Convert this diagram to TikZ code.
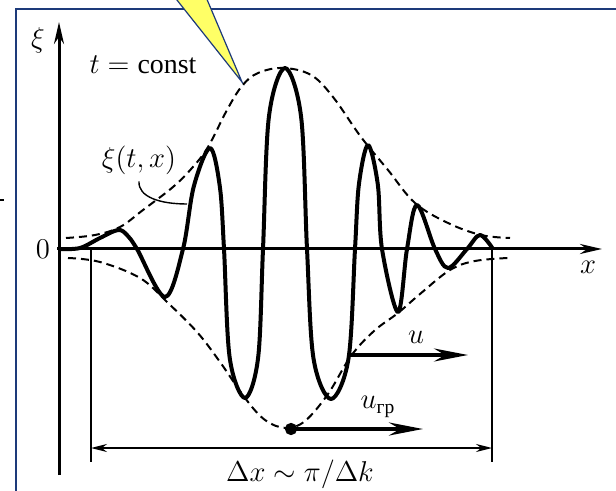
\documentclass[tikz,border=0pt]{standalone}
\usepackage{amsmath}
\usepackage{fontspec}
\setmainfont{Liberation Serif}
\usetikzlibrary{arrows.meta}
\definecolor{framenavy}{HTML}{1D3A7A}
\definecolor{callout}{HTML}{FFFF66}

\begin{document}
\begin{tikzpicture}[x=0.5bp, y=-0.5bp,
    font=\fontsize{14}{17}\selectfont,
    axis/.style={line width=1.5bp, -{Stealth[length=11bp, width=5bp]}},
    wave/.style={line width=2bp, line join=round},
    env/.style={line width=1bp, dash pattern=on 4bp off 2.5bp},
    vel/.style={line width=1.8bp, -{Stealth[length=17bp, width=6.5bp]}},
    dim/.style={line width=0.8bp, {Stealth[length=8bp, width=4bp]}-{Stealth[length=8bp, width=4bp]}},
    guide/.style={line width=1bp}]
\clip (0,0) rectangle (616,491);
\fill[white] (0,0) rectangle (616,491);

% --- frame & callout ---
\draw[framenavy, line width=1.2bp] (16,640) -- (16,9) -- (640,9);
\draw[framenavy, line width=0.6bp, fill=callout] (169,-10) -- (242,82) -- (203,-10) -- cycle;
\draw[line width=0.8bp] (0,200) -- (4,200);

% --- axes ---
\coordinate (yB) at (59,475);
\coordinate (yT) at (59,22);
\coordinate (xL) at (57,249);
\coordinate (xR) at (602,249);
\draw[axis] (yB) -- (yT);
\draw[axis] (xL) -- (xR);
\node (xilab) at (38,40) {$\xi$};
\node (zero) at (43,249) {$0$};
\node (xlab) at (588,267) {$x$};
\node (tconst) at (143,65) {$t=\text{const}$};

% --- envelope ---
\draw[env] plot[smooth, tension=0.6] coordinates {(66,238) (95,235) (120,227) (143,210)
  (173,187) (192,168) (208,147) (227,110) (242,86) (258,73) (283,68) (311,75) (333,97)
  (361,137) (388,170) (415,203) (448,223) (481,235) (510,238)};
\draw[env] plot[smooth, tension=0.6] coordinates {(68,258) (100,262) (140,278) (167,302)
  (197,332) (220,362) (245,398) (265,420) (286,428) (305,421) (328,394) (351,356)
  (374,331) (398,313) (420,294) (450,270) (475,261) (508,258)};

% --- wave packet ---
\draw[wave] plot[smooth, tension=0.55] coordinates {(60,249) (80,248) (100,238) (118,230)
  (127,235) (137,249) (165,297) (183,249) (193.8,186.4) (210,148) (219.8,186.4)
  (224,249) (229.7,357.8) (245,398) (258.1,357.8) (263,249) (268.9,116.9) (285,68)
  (301.1,116.9) (307,249) (313.5,358.5) (331,399) (348.5,358.5) (355,249) (358.9,184.5)
  (368,145) (377.8,184.5) (382,249) (398,312) (407,249) (417,205) (435,249) (448,268)
  (467,249) (480,235) (493,249)};
\coordinate (onwave) at (187,204);
\node (xitx) at (139,160) {$\xi(t,x)$};
\draw[line width=0.7bp] (xitx.south) .. controls (138,197) and (160,204) .. (onwave);

% --- velocities ---
\coordinate (uS) at (348,355);
\coordinate (uE) at (468,355);
\draw[vel] (uS) -- (uE);
\node (ulab) at (416,337) {$u$};
\coordinate (gS) at (285,429);
\coordinate (gE) at (423,429);
\draw[vel, {Circle[length=6bp]}-{Stealth[length=17bp, width=6.5bp]}, line width=2bp] (gS) -- (gE);
\node (ugr) at (378,407) {$u_{\text{гр}}$};

% --- width of the packet ---
\coordinate (wL) at (91,249);
\coordinate (wR) at (492,249);
\coordinate (wLb) at (91,462);
\coordinate (wRb) at (492,462);
\draw[guide] (wL) -- (wLb);
\draw[guide] (wR) -- (wRb);
\coordinate (dL) at (91,448);
\coordinate (dR) at (492,448);
\draw[dim] (dL) -- (dR);
\node (dxlab) at (300,474) {$\Delta x\sim\pi/\Delta k$};
\end{tikzpicture}
\end{document}
